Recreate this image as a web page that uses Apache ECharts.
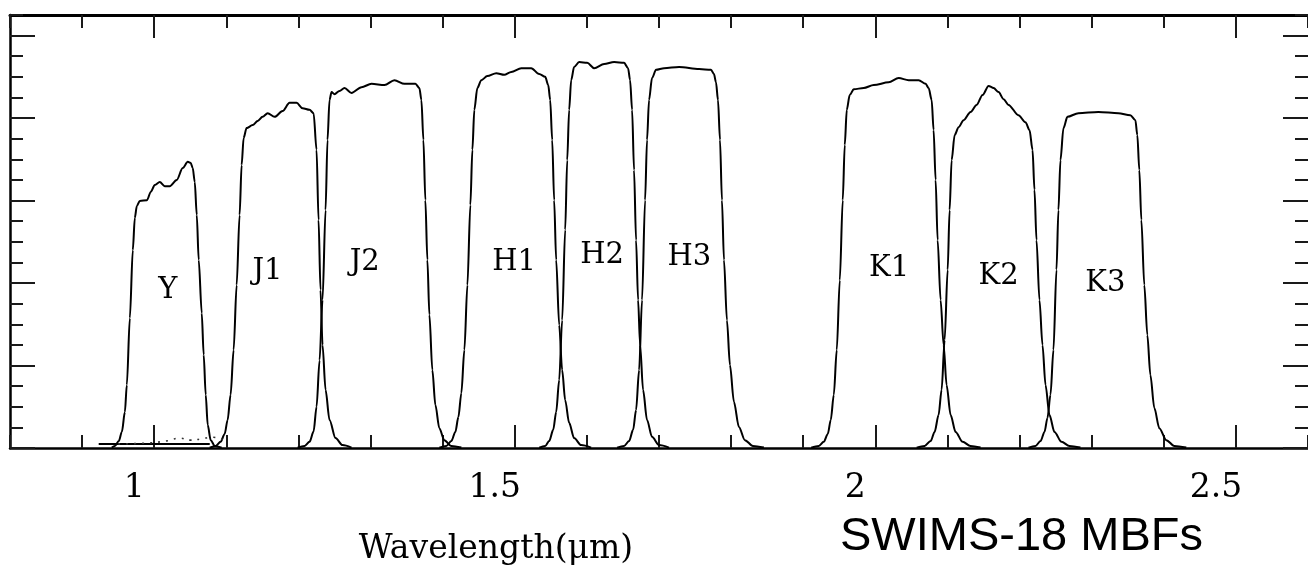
<!DOCTYPE html>
<html><head><meta charset="utf-8">
<script src="https://cdn.jsdelivr.net/npm/echarts@6/dist/echarts.min.js"></script>
<style>html,body{margin:0;padding:0;background:#fff}#c{width:1308px;height:565px}</style>
</head><body><div id="c"></div>
<script>
// ---- data (wavelength in micron, transmission) ----
const xTickLabels = [1, 1.5, 2, 2.5];
const yMajorTicks = [0, 0.2, 0.4, 0.6, 0.8, 1.0];
const filterNames = ['Y', 'J1', 'J2', 'H1', 'H2', 'H3', 'K1', 'K2', 'K3'];
const labelWave = [1.019, 1.157, 1.292, 1.499, 1.621, 1.742, 2.019, 2.171, 2.319];
const labelTrans = [0.383, 0.428, 0.451, 0.451, 0.468, 0.463, 0.436, 0.417, 0.400];

const filterY = [[0.9412,0.001],[0.9454,0.005],[0.9509,0.017],[0.9551,0.039],[0.9593,0.087],[0.962,0.153],[0.9662,0.315],[0.9703,0.480],[0.9731,0.558],[0.9759,0.587],[0.980,0.599],[0.990,0.601],[0.9952,0.621],[1.0008,0.638],[1.0077,0.645],[1.0146,0.635],[1.0215,0.635],[1.0312,0.650],[1.0395,0.679],[1.0465,0.694],[1.0506,0.691],[1.0534,0.679],[1.0562,0.645],[1.059,0.565],[1.0617,0.456],[1.0659,0.327],[1.0686,0.226],[1.0714,0.129],[1.0742,0.056],[1.0783,0.019],[1.0839,0.005],[1.0935,0.001]];
const filterJ1 = [[1.0769,0.001],[1.0852,0.005],[1.0921,0.015],[1.0977,0.034],[1.1018,0.068],[1.1059,0.129],[1.1101,0.238],[1.1143,0.395],[1.1184,0.565],[1.1212,0.686],[1.124,0.752],[1.1281,0.776],[1.1365,0.783],[1.1434,0.793],[1.1503,0.803],[1.1573,0.812],[1.1669,0.803],[1.178,0.817],[1.1877,0.837],[1.1974,0.837],[1.2057,0.824],[1.2154,0.820],[1.221,0.812],[1.2251,0.723],[1.2279,0.553],[1.2306,0.383],[1.2334,0.250],[1.2376,0.141],[1.2431,0.068],[1.2514,0.024],[1.2611,0.007],[1.2736,0.001]];
const filterJ2 = [[1.1988,0.001],[1.2085,0.005],[1.2154,0.015],[1.221,0.040],[1.2251,0.100],[1.2293,0.213],[1.2334,0.359],[1.2376,0.577],[1.2403,0.747],[1.2431,0.844],[1.2459,0.863],[1.25,0.858],[1.2569,0.866],[1.2639,0.873],[1.2736,0.861],[1.2874,0.875],[1.3013,0.883],[1.3193,0.880],[1.3331,0.892],[1.347,0.883],[1.3622,0.883],[1.3677,0.873],[1.3705,0.844],[1.3733,0.747],[1.376,0.601],[1.3788,0.456],[1.3816,0.323],[1.3857,0.189],[1.3899,0.104],[1.3954,0.048],[1.4023,0.019],[1.412,0.005],[1.4259,0.001]];
const filterH1 = [[1.3954,0.001],[1.4051,0.005],[1.412,0.017],[1.4176,0.039],[1.4218,0.075],[1.4259,0.133],[1.4301,0.238],[1.4343,0.395],[1.4384,0.589],[1.4412,0.723],[1.4439,0.820],[1.4481,0.873],[1.4536,0.892],[1.4619,0.902],[1.4743,0.909],[1.4854,0.905],[1.4951,0.912],[1.509,0.921],[1.5228,0.921],[1.5339,0.907],[1.5422,0.900],[1.5464,0.880],[1.5491,0.844],[1.5519,0.747],[1.5546,0.601],[1.5574,0.456],[1.5616,0.298],[1.5657,0.189],[1.5699,0.116],[1.5754,0.061],[1.5823,0.024],[1.592,0.007],[1.6059,0.001]];
const filterH2 = [[1.5339,0.001],[1.5422,0.005],[1.5477,0.017],[1.5533,0.044],[1.5574,0.087],[1.5616,0.165],[1.5657,0.310],[1.5699,0.529],[1.5727,0.698],[1.5754,0.820],[1.5782,0.892],[1.5823,0.924],[1.5893,0.936],[1.6004,0.934],[1.6101,0.921],[1.6239,0.931],[1.6378,0.936],[1.6516,0.934],[1.6571,0.921],[1.6599,0.892],[1.6627,0.820],[1.6654,0.674],[1.6682,0.504],[1.671,0.359],[1.6738,0.250],[1.6779,0.141],[1.6834,0.068],[1.6903,0.027],[1.70,0.007],[1.7139,0.001]];
const filterH3 = [[1.6419,0.001],[1.6516,0.005],[1.6585,0.017],[1.6641,0.044],[1.6682,0.092],[1.6724,0.189],[1.6765,0.359],[1.6807,0.601],[1.6834,0.747],[1.6862,0.844],[1.6903,0.897],[1.6959,0.917],[1.707,0.921],[1.7278,0.924],[1.7555,0.919],[1.7721,0.917],[1.7762,0.907],[1.779,0.887],[1.7818,0.844],[1.7846,0.747],[1.7873,0.601],[1.7901,0.456],[1.7942,0.310],[1.7984,0.201],[1.8039,0.112],[1.8108,0.051],[1.8191,0.019],[1.8302,0.005],[1.8454,0.001]];
const filterK1 = [[1.911,0.001],[1.9216,0.005],[1.9285,0.015],[1.9341,0.034],[1.9382,0.068],[1.9424,0.129],[1.9465,0.238],[1.9507,0.407],[1.9548,0.601],[1.9576,0.735],[1.9604,0.820],[1.9645,0.856],[1.9701,0.870],[1.9839,0.873],[1.9978,0.880],[2.0185,0.887],[2.0324,0.897],[2.0462,0.892],[2.0601,0.892],[2.0698,0.883],[2.0739,0.873],[2.0781,0.844],[2.0808,0.771],[2.0836,0.650],[2.0864,0.504],[2.0905,0.359],[2.0947,0.250],[2.0988,0.153],[2.1044,0.080],[2.1113,0.039],[2.121,0.015],[2.132,0.005],[2.1459,0.001]];
const filterK2 = [[2.0573,0.001],[2.0684,0.005],[2.0767,0.017],[2.0822,0.039],[2.0877,0.080],[2.0919,0.141],[2.0961,0.262],[2.1003,0.432],[2.103,0.577],[2.1058,0.698],[2.11,0.759],[2.1155,0.778],[2.1224,0.795],[2.1321,0.815],[2.1404,0.832],[2.1487,0.856],[2.157,0.878],[2.164,0.873],[2.1709,0.863],[2.1778,0.846],[2.1847,0.832],[2.1985,0.807],[2.2082,0.790],[2.2138,0.771],[2.218,0.723],[2.2207,0.626],[2.2235,0.504],[2.2276,0.359],[2.2318,0.250],[2.236,0.153],[2.2415,0.080],[2.2484,0.039],[2.2581,0.015],[2.2692,0.005],[2.2844,0.001]];
const filterK3 = [[2.2124,0.001],[2.2221,0.005],[2.2291,0.017],[2.2346,0.039],[2.2387,0.073],[2.2429,0.129],[2.247,0.238],[2.2512,0.432],[2.2539,0.577],[2.2567,0.698],[2.2609,0.776],[2.2664,0.803],[2.2816,0.812],[2.3093,0.815],[2.337,0.812],[2.3536,0.807],[2.3606,0.795],[2.3633,0.759],[2.3661,0.674],[2.3689,0.553],[2.373,0.395],[2.3772,0.274],[2.3814,0.177],[2.3869,0.097],[2.3938,0.048],[2.4035,0.019],[2.4146,0.005],[2.4312,0.001]];
const baseSolid = [[0.923,0.01],[1.077,0.01]];
const baseDotted = [[0.95,0.01],[0.99,0.012],[1.02,0.018],[1.035,0.024],[1.05,0.019],[1.065,0.022],[1.08,0.026],[1.095,0.02]];

const filters = [filterY, filterJ1, filterJ2, filterH1, filterH2, filterH3, filterK1, filterK2, filterK3];

// ---- chart ----
const chart = echarts.init(document.getElementById('c'), null, {renderer: 'canvas'});
const X_MIN = 0.8, X_MAX = 2.6, Y_MIN = 0, Y_MAX = 1.05;
const tickStyle = {color: '#1a1a1a', width: 2};
function xAx(pos, major, lineW) {
  return {
    type: 'value', position: pos, min: X_MIN, max: X_MAX, interval: 0.1,
    axisLine: {show: !major, onZero: false, lineStyle: {color: '#000', width: lineW}},
    axisTick: major ? {inside: true, length: 23, customValues: xTickLabels, lineStyle: tickStyle}
                    : {inside: true, length: 13, lineStyle: tickStyle},
    axisLabel: (pos === 'bottom' && !major) ? {
      customValues: xTickLabels, fontFamily: 'DejaVu Serif', fontSize: 33, color: '#000',
      margin: 24, padding: [0, 40, 0, 0]
    } : {show: false},
    splitLine: {show: false}
  };
}
function yAx(pos, major, lineW) {
  return {
    type: 'value', position: pos, min: Y_MIN, max: Y_MAX, interval: 0.05,
    axisLine: {show: pos === 'left' && !major, onZero: false, lineStyle: {color: '#000', width: lineW}},
    axisTick: major ? {inside: true, length: 25, customValues: yMajorTicks, lineStyle: tickStyle}
                    : {inside: true, length: 13, lineStyle: tickStyle},
    axisLabel: {show: false},
    splitLine: {show: false}
  };
}

const series = filters.map((d, i) => ({
  name: filterNames[i], type: 'line', data: d, xAxisIndex: 0, yAxisIndex: 0,
  showSymbol: false, smooth: 0.3, smoothMonotone: 'x',
  lineStyle: {color: '#000', width: 2}, silent: true, z: 3
}));
series.push({
  type: 'line', data: baseSolid, showSymbol: false, silent: true,
  lineStyle: {color: '#000', width: 2}, z: 3
});
series.push({
  type: 'line', data: baseDotted, showSymbol: false, silent: true, smooth: true,
  lineStyle: {color: '#333', width: 1.6, type: [2, 6]}, z: 3
});
series.push({
  type: 'scatter', symbolSize: 0, silent: true, z: 4,
  itemStyle: {opacity: 1},
  data: filterNames.map((n, i) => ({name: n, value: [labelWave[i], labelTrans[i]]})),
  label: {show: true, position: 'inside', formatter: '{b}', fontFamily: 'DejaVu Serif',
          fontSize: 29, color: '#000', opacity: 1}
});

chart.setOption({
  animation: false,
  backgroundColor: '#fff',
  grid: {left: 10, top: 15, width: 1300, height: 433, containLabel: false},
  xAxis: [xAx('bottom', false, 2.5), xAx('bottom', true, 2.5), xAx('top', false, 3), xAx('top', true, 3)],
  yAxis: [yAx('left', false, 2.5), yAx('left', true, 2.5), yAx('right', false, 2.5), yAx('right', true, 2.5)],
  series: series,
  graphic: [
    {type: 'text', x: 496, y: 549, style: {text: 'Wavelength(μm)', fontFamily: 'DejaVu Serif',
      fontSize: 33, fill: '#000', align: 'center', verticalAlign: 'middle'}},
    {type: 'text', x: 840, y: 537, style: {text: 'SWIMS-18 MBFs', fontFamily: 'Liberation Sans',
      fontSize: 47, fill: '#000', align: 'left', verticalAlign: 'middle'}}
  ]
});
</script></body></html>
